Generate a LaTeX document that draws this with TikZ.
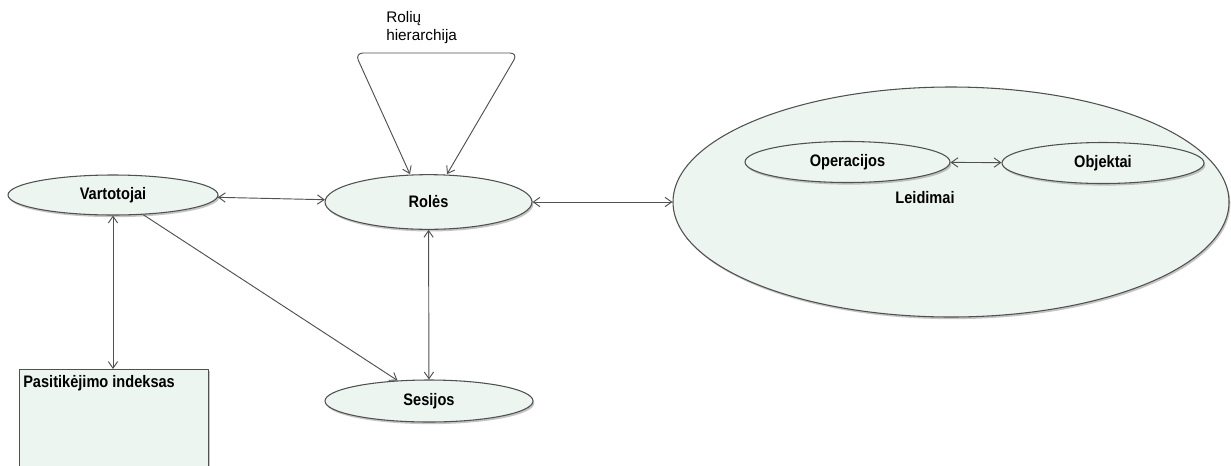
\documentclass[tikz,border=0pt]{standalone}
\usepackage{fontspec}
\setmainfont{Liberation Sans}
\newfontfamily\ovalfont{Liberation Sans}[FakeStretch=0.875]
\usetikzlibrary{shapes.geometric,arrows.meta,shadows}
\definecolor{edge}{HTML}{505050}
\definecolor{paleteal}{HTML}{EDF5F1}
\begin{document}
\begin{tikzpicture}[x=0.75pt,y=-0.75pt,
  every node/.style={font=\ovalfont\fontsize{12.5}{15}\selectfont\bfseries},
  oval/.style={ellipse, draw=edge, line width=0.8pt, inner sep=0pt,
    fill=paleteal,
    drop shadow={shadow xshift=1pt, shadow yshift=-1.6pt, fill=black!45, opacity=0.5}},
  panel/.style={rectangle, draw=edge, line width=1pt, inner sep=0pt,
    fill=paleteal,
    drop shadow={shadow xshift=1.2pt, shadow yshift=-1.2pt, fill=black!45, opacity=0.5}},
  link/.style={draw=edge, line width=0.7pt},
  both/.style={link, {Straight Barb[length=5pt,width=7pt]}-{Straight Barb[length=5pt,width=7pt]}},
  fwd/.style={link, -{Straight Barb[length=5pt,width=7pt]}}]
\clip (0,0) rectangle (1231,465);
\fill[white] (0,0) rectangle (1231,465);

% permissions container with its two parts
\node[oval, minimum width=417pt, minimum height=172.5pt] (perm) at (951,202) {};
\node (permlbl) at (925,198) {Leidimai};
\node[oval, minimum width=153.75pt, minimum height=30.75pt] (ops) at (847.5,162) {Operacijos};
\node[oval, minimum width=151.5pt, minimum height=30.75pt] (obj) at (1103,163) {Objektai};

% main entities
\node[oval, minimum width=157.5pt, minimum height=30pt] (users) at (113,195) {Vartotojai};
\node[oval, minimum width=155.25pt, minimum height=41pt] (roles) at (428.5,202) {Rolės};
\node[oval, minimum width=156pt, minimum height=31.5pt] (sess) at (429,401) {Sesijos};

% trust index panel, running past the lower edge
\node[panel, anchor=north west, minimum width=141.75pt, minimum height=120pt] (trust) at (19,369) {};
\node[anchor=north west, inner sep=0pt] (trustlbl) at (23,375) {Pasitikėjimo indeksas};

% role hierarchy loop
\coordinate (hl) at (355,53);
\coordinate (hr) at (518,53);
\node[anchor=north west, align=left, inner sep=0pt,
  font=\fontsize{11.5}{13.5}\selectfont] (hier) at (386,11) {Rolių\\hierarchija};
\draw[both, rounded corners=6pt] ([xshift=-13.9pt]roles.north) -- (hl) -- (hr) -- ([xshift=13.9pt]roles.north);

% connectors
\draw[both] (users) -- (roles);
\draw[both] (roles) -- (perm);
\draw[both] (roles) -- (sess);
\draw[both] (ops) -- (obj);
\draw[fwd] (users) -- (sess);
\draw[both] (users.south) -- (users.south |- trust.north);
\end{tikzpicture}
\end{document}
